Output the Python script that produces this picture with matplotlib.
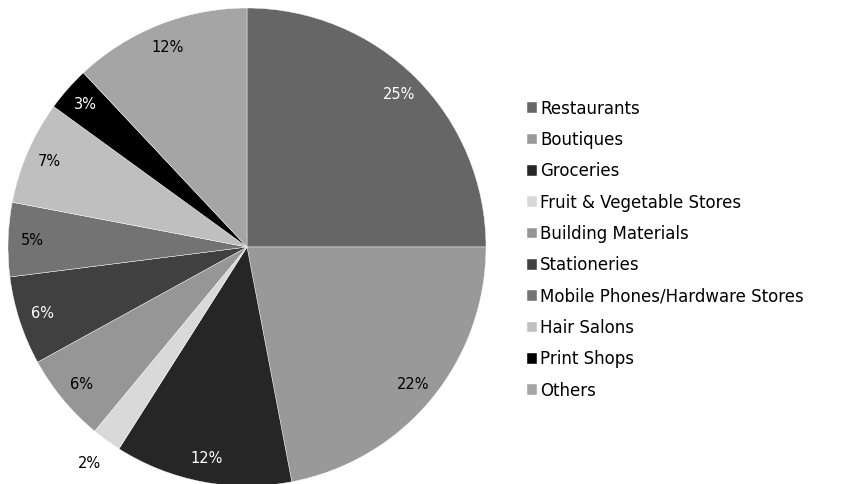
import matplotlib
matplotlib.use("Agg")
import matplotlib.pyplot as plt

categories = [
    "Restaurants", "Boutiques", "Groceries", "Fruit & Vegetable Stores",
    "Building Materials", "Stationeries", "Mobile Phones/Hardware Stores",
    "Hair Salons", "Print Shops", "Others",
]
shares = [25, 22, 12, 2, 6, 6, 5, 7, 3, 12]
colors = ["#666666", "#999999", "#262626", "#d9d9d9", "#969696",
          "#404040", "#737373", "#bfbfbf", "#000000", "#a5a5a5"]
label_colors = ["white", "black", "white", "black", "black",
                "white", "black", "black", "white", "black"]

fig = plt.figure(figsize=(8.6, 4.84), dpi=100)
ax = fig.add_axes([(247 - 239) / 860, (237 - 239) / 484, 478 / 860, 478 / 484])

wedges, texts, autotexts = ax.pie(
    shares, colors=colors, startangle=90, counterclock=False,
    autopct="%d%%", pctdistance=0.9, radius=1.0,
    wedgeprops=dict(edgecolor="white", linewidth=0.3),
    textprops=dict(fontsize=10.5, family="DejaVu Sans"),
)
for t, c, v in zip(autotexts, label_colors, shares):
    t.set_color(c)
    if v <= 2:
        x, y = t.get_position()
        t.set_position((x * 1.12 / 0.9, y * 1.12 / 0.9))
ax.set_aspect("equal")
ax.set_xlim(-1, 1)
ax.set_ylim(-1, 1)

fig.legend(
    wedges, categories, loc="center left",
    bbox_to_anchor=(527 / 860, 1 - 249.5 / 484),
    frameon=False, borderpad=0, borderaxespad=0,
    handlelength=0.6, handleheight=0.6, handletextpad=0.2,
    labelspacing=0.8, prop=dict(family="DejaVu Sans", size=12),
)

fig.savefig("out.png", dpi=100)
